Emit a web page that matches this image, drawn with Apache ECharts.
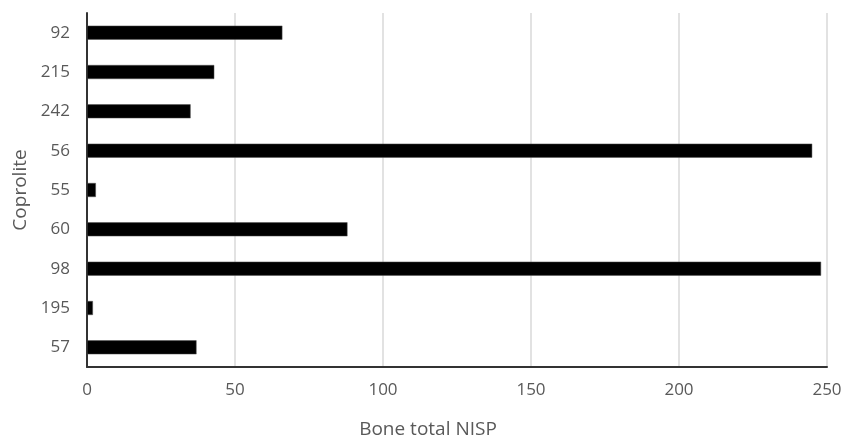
<!DOCTYPE html>
<html><head><meta charset="utf-8">
<script src="https://cdn.jsdelivr.net/npm/echarts@6/dist/echarts.min.js"></script>
<style>html,body{margin:0;padding:0;background:#fff}#c{width:853px;height:440px}</style>
</head><body><div id="c"></div>
<script>
const categories = ["92","215","242","56","55","60","98","195","57"];
const values = [66, 43, 35, 245, 3, 88, 248, 2, 37];
const xTicks = [0, 50, 100, 150, 200, 250];

const FONT = '"Open Sans"';
const chart = echarts.init(document.getElementById('c'));
chart.setOption({
  animation: false,
  backgroundColor: '#fff',
  grid: {left: 87, right: 26, top: 13, bottom: 73, containLabel: false, outerBoundsMode: 'none'},
  xAxis: {
    type: 'value', min: 0, max: 250, interval: 50,
    name: 'Bone total NISP', nameLocation: 'middle', nameGap: 53,
    nameTextStyle: {color: '#595959', fontSize: 19, fontFamily: FONT, padding: [0, 58, 0, 0]},
    axisLine: {show: true, lineStyle: {color: '#333', width: 2}},
    axisTick: {show: false},
    axisLabel: {color: '#595959', fontSize: 17, fontFamily: FONT, margin: 15,
      formatter: v => xTicks.includes(v) ? String(v) : ''},
    splitLine: {show: true, lineStyle: {color: '#d9d9d9', width: 1.5}}
  },
  yAxis: {
    type: 'category', data: categories, inverse: true,
    name: 'Coprolite', nameLocation: 'middle', nameGap: 55, nameRotate: 90,
    nameTextStyle: {color: '#595959', fontSize: 19, fontFamily: FONT},
    axisLine: {show: true, lineStyle: {color: '#333', width: 2}},
    axisTick: {show: false},
    axisLabel: {color: '#595959', fontSize: 17, fontFamily: FONT, margin: 17},
    splitLine: {show: false}
  },
  series: [{
    type: 'bar', data: values, barWidth: 14,
    itemStyle: {color: '#000', borderColor: '#555', borderWidth: 0.5}
  }]
});
</script></body></html>
